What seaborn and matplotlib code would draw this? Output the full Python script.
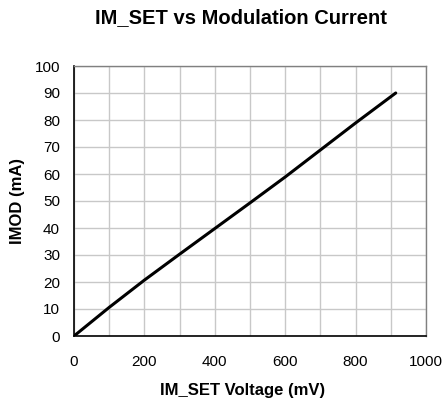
import pandas as pd
import seaborn as sns
import matplotlib.pyplot as plt

# IM_SET voltage (mV) vs modulation current (mA)
im_set_mv = [0, 100, 200, 300, 400, 500, 600, 700, 800, 914]
imod_ma = [0, 10.6, 20.7, 30.3, 39.8, 49.3, 58.9, 68.9, 78.9, 90]
x_ticks = [0, 200, 400, 600, 800, 1000]
y_ticks = [0, 10, 20, 30, 40, 50, 60, 70, 80, 90, 100]

df = pd.DataFrame({'mv': im_set_mv, 'ma': imod_ma})

sns.set_style('white')
plt.rcParams['font.family'] = ['Liberation Sans', 'DejaVu Sans']
plt.rcParams['text.color'] = 'black'
plt.rcParams['axes.labelcolor'] = 'black'

fig = plt.figure(figsize=(4.45, 4.03), dpi=100)
ax = fig.add_axes([74 / 445, 1 - 336 / 403, 352 / 445, 270 / 403])

sns.lineplot(data=df, x='mv', y='ma', ax=ax, color='black', linewidth=2.2)

ax.set_xlim(0, 1000)
ax.set_ylim(0, 100)
ax.set_xticks(x_ticks)
ax.set_yticks(y_ticks)
ax.set_xticks(range(100, 1000, 200), minor=True)
ax.grid(True, which='both', color='#c8c8c8', linewidth=1)
ax.tick_params(which='both', length=0, labelsize=11, colors='black')
ax.tick_params(axis='x', pad=14)
ax.tick_params(axis='y', pad=10)

for side in ['left', 'bottom']:
    ax.spines[side].set_color('black')
    ax.spines[side].set_linewidth(1.2)
for side in ['top', 'right']:
    ax.spines[side].set_color('#808080')
    ax.spines[side].set_linewidth(1)

ax.set_xlabel('IM_SET Voltage (mV)', fontsize=12, fontweight='bold')
ax.set_ylabel('IMOD (mA)', fontsize=12, fontweight='bold')
ax.xaxis.set_label_coords(0.48, -0.175)
ax.yaxis.set_label_coords(-0.14, 0.5)
fig.text(0.5 + 18 / 445, 1 - 18 / 403, 'IM_SET vs Modulation Current',
         ha='center', va='center', fontsize=14.5, fontweight='bold')

plt.savefig('out.png', dpi=100)
